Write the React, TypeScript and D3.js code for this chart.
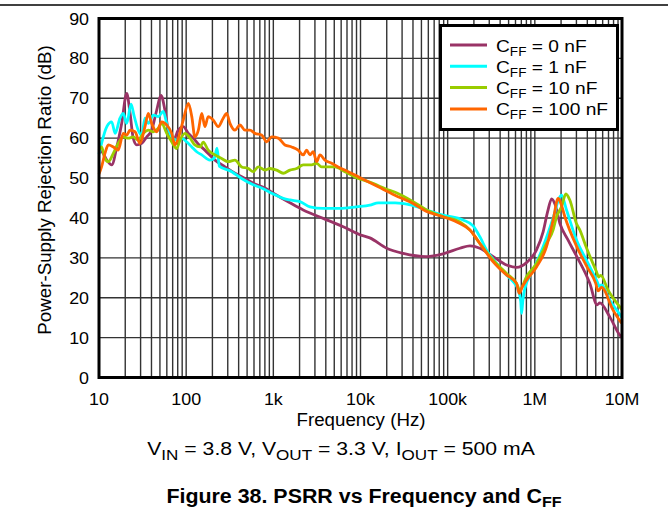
import React from "react";
import * as d3 from "d3";

const freqTicks = [10, 100, 1e3, 1e4, 1e5, 1e6, 1e7];
const freqTickLabels = ["10", "100", "1k", "10k", "100k", "1M", "10M"];
const dbTicks = [0, 10, 20, 30, 40, 50, 60, 70, 80, 90];

const seriesNames = ["0 nF", "1 nF", "10 nF", "100 nF"];
const seriesColors = ["#993366", "#00FFFF", "#99CC00", "#FF6600"];

const cff0Freq = [10, 10.7, 12.3, 14, 16, 18.2, 20.8, 22.7, 24.7, 27.1, 30.9, 35.2, 40.2, 45.9, 51.4, 57.1, 62.3, 71.1, 81.2, 92.6, 106, 121, 138, 164, 214, 279, 363, 472, 615, 801, 1000, 1550, 2200, 3730, 6330, 9844, 12800, 19930, 30900, 57300, 88800, 138000, 180000, 234000, 333000, 473000, 617000, 803000, 1045000, 1245000, 1400000, 1560000, 1700000, 1940000, 2400000, 3000000, 4270000, 5180000, 5560000, 7240000, 9440000, 10000000];
const cff0Db = [56.5, 56.6, 54.5, 53.3, 57.8, 63.7, 71.2, 66.3, 60, 58.3, 58.7, 60.3, 62, 67, 70.7, 67, 62, 59.5, 62, 62.9, 61.2, 60, 58.5, 57, 54.5, 52.8, 51.2, 49.9, 48.5, 47.5, 46.2, 43.8, 42, 39.9, 37.8, 35.8, 35, 32.4, 31.1, 30.3, 31, 32.4, 33, 32.4, 30.3, 28.2, 27.6, 28.8, 32, 36.5, 41.5, 44.8, 43.5, 38.6, 34.5, 30.5, 23.6, 18.2, 18.7, 15.2, 10.6, 10];

const cff1Freq = [10, 10.7, 12.3, 14, 15.3, 17.4, 19, 20.8, 23.3, 25.4, 28.2, 30.9, 33.7, 36.8, 42, 47.9, 54.6, 59.8, 68.2, 77.8, 88.8, 101, 116, 132, 151, 187, 210, 226, 240, 333, 433, 564, 734, 1000, 1300, 1550, 2018, 2630, 3730, 5800, 9000, 12800, 16000, 25000, 38500, 57300, 88800, 150000, 196000, 234000, 279000, 364000, 473000, 564000, 644000, 690000, 704000, 730000, 768000, 957000, 1245000, 1622000, 1936000, 2024000, 2310000, 3000000, 3910000, 5100000, 5560000, 5820000, 7240000, 9870000, 10000000];
const cff1Db = [56, 58.7, 62.9, 64.1, 61.2, 65, 66.2, 63.7, 68.5, 65.4, 62, 60.8, 65, 63.7, 65.8, 65.4, 66.7, 63.7, 60.3, 59.5, 60, 59.1, 57.8, 56.6, 55.8, 54.5, 55, 57.5, 53, 51.6, 49.9, 48.5, 47.5, 46, 44.9, 44.5, 44.1, 42.8, 42.4, 42.4, 42.8, 43.2, 43.8, 43.8, 43.2, 42, 40.7, 39.5, 38, 35.3, 32, 28.6, 25.7, 24, 22, 19, 16.1, 19.5, 22.3, 26.9, 32.8, 40, 45.3, 45.7, 42, 34.5, 29.4, 24.4, 22.8, 23.2, 19.4, 15.2, 15];

const cff10Freq = [10, 10.7, 11.7, 12.8, 14.6, 16.6, 19, 21.7, 24.7, 28.2, 32.2, 36.8, 42, 47.9, 52.4, 59.8, 68.2, 77.8, 84.9, 96.9, 111, 126, 144, 157, 179, 214, 255, 304, 363, 433, 516, 588, 671, 801, 914, 1091, 1299, 1550, 1850, 2202, 2750, 3138, 3580, 4263, 5087, 6622, 8627, 12250, 19050, 29570, 40180, 57280, 88760, 138000, 180000, 234000, 333000, 473000, 617000, 673000, 803000, 1045000, 1362000, 1622000, 1774000, 2024000, 2270000, 2520000, 3000000, 3280000, 3910000, 5100000, 5400000, 5700000, 6930000, 9440000, 10000000];
const cff10Db = [57, 57.8, 54.9, 54.1, 56.2, 58.7, 60.3, 60, 60.3, 59.5, 61.2, 62, 61.6, 62.5, 63.7, 61.2, 59.1, 57.4, 59.5, 61.2, 60, 58.3, 57.8, 59, 57, 55.8, 54.9, 54.1, 54.5, 52.8, 52.4, 51.6, 52.8, 52, 52.4, 52, 51.2, 52, 52.4, 53.3, 53.3, 53.7, 52.8, 52.8, 52.8, 51.6, 50.3, 49.1, 47.4, 45.7, 44.1, 42, 40.3, 39, 37, 33.6, 29.4, 26.1, 23.6, 21.9, 25.3, 28.6, 33.6, 37, 40.3, 42.8, 46, 44.5, 38.6, 37, 32.5, 26.5, 25.2, 25.6, 21.9, 17.7, 17];

const cff100Freq = [10, 10.7, 11.7, 12.8, 14.6, 16.6, 19, 20.8, 22.7, 25.9, 29.5, 33.7, 36.8, 40.2, 45.9, 52.4, 59.8, 68.2, 74.4, 81.2, 92.6, 106, 116, 126, 138, 151, 164, 179, 205, 233, 266, 291, 318, 363, 414, 472, 539, 615, 734, 838, 956, 1138, 1358, 1622, 1930, 2202, 2409, 2630, 2869, 3138, 3423, 3906, 4663, 5550, 7225, 10294, 15960, 24790, 40180, 57280, 88760, 138000, 180000, 234000, 333000, 473000, 617000, 661000, 720000, 803000, 1045000, 1362000, 1622000, 1850000, 2000000, 2210000, 3000000, 3910000, 5000000, 5320000, 5820000, 7900000, 9870000];
const cff100Db = [51, 52.8, 56.2, 58.3, 57.8, 57, 61.2, 60.8, 62, 61.6, 58.7, 62.9, 66.2, 63.7, 61.6, 64.1, 63.3, 61.2, 58.3, 60, 64.5, 68.7, 65.4, 60.3, 62, 66.2, 62.9, 65.4, 64.5, 62.9, 65, 66.2, 63.7, 62, 63.3, 62, 62, 61.2, 60.8, 59.1, 60.3, 60, 58.3, 57.8, 57, 55.8, 57, 55.8, 56.6, 54.1, 55.8, 54.5, 53.7, 52.8, 51.6, 49.9, 47.8, 45.7, 43.6, 41.6, 40.3, 38.6, 37, 33.6, 29, 25.7, 23.6, 21.1, 22.8, 24.4, 27.7, 32.8, 39.5, 44.9, 43.5, 40.3, 33, 28, 23.6, 21.7, 22.6, 16.9, 13.6];

const seriesFreq = [cff0Freq, cff1Freq, cff10Freq, cff100Freq];
const seriesDb = [cff0Db, cff1Db, cff10Db, cff100Db];

const W = 668;
const H = 508;
const FONT = "'Liberation Sans', Arial, Helvetica, sans-serif";

function T({ x, y, size, anchor = "start", sx = 1, weight = "normal", rotate = 0, children }: any) {
  const tr = `translate(${x},${y})${rotate ? ` rotate(${rotate})` : ""} scale(${sx},1)`;
  return (
    <text transform={tr} fontSize={size} fontFamily={FONT} fontWeight={weight} textAnchor={anchor} fill="#000">
      {children}
    </text>
  );
}

export default function App() {
  const x = d3.scaleLog().domain([10, 1e7]).range([99, 622]);
  const y = d3.scaleLinear().domain([0, 90]).range([377.5, 18.5]);

  const minor: number[] = [];
  for (let dec = 10; dec < 1e7; dec *= 10) {
    for (let m = 2; m <= 9; m++) minor.push(dec * m);
  }

  const line = d3
    .line<[number, number]>()
    .x((d) => x(d[0]))
    .y((d) => y(d[1]))
    .curve(d3.curveMonotoneX);

  const series = seriesFreq.map((fs, i) => fs.map((f, j) => [f, seriesDb[i][j]] as [number, number]));

  const gridColor = "#333";
  const legX = 440.5, legY = 25.5, legW = 177, legH = 104;

  return (
    <svg width={W} height={H} style={{ position: "absolute", left: 0, top: 0, background: "#fff" }}>
      <rect x={0} y={0} width={W} height={H} fill="#fff" />
      <line x1={0} x2={W} y1={5} y2={5} stroke="#000" strokeWidth={1.5} />

      {/* grid */}
      {minor.concat(freqTicks).map((f, i) => (
        <line key={"v" + i} x1={x(f)} x2={x(f)} y1={y(90)} y2={y(0)} stroke={gridColor} strokeWidth={1.4} />
      ))}
      {dbTicks.map((v) => (
        <line key={"h" + v} x1={x(10)} x2={x(1e7)} y1={y(v)} y2={y(v)} stroke={gridColor} strokeWidth={1.4} />
      ))}

      {/* curves */}
      {series.map((s, i) => (
        <path key={"s" + i} d={line(s) || ""} fill="none" stroke={seriesColors[i]} strokeWidth={2.8} strokeLinejoin="round" />
      ))}

      {/* border */}
      <rect x={x(10)} y={y(90)} width={x(1e7) - x(10)} height={y(0) - y(90)} fill="none" stroke="#000" strokeWidth={3} />

      {/* legend */}
      <rect x={legX} y={legY} width={legW} height={legH} fill="#fff" stroke="#000" strokeWidth={3} />
      {seriesNames.map((n, i) => {
        const ly = 45 + i * 21.3;
        return (
          <g key={"l" + i}>
            <line x1={450} x2={487} y1={ly} y2={ly} stroke={seriesColors[i]} strokeWidth={3} />
            <text transform={`translate(496,${ly + 6.5}) scale(1.13,1)`} fontSize={17} fontFamily={FONT} fill="#000">
              C<tspan fontSize={12} dy={4}>FF</tspan>
              <tspan dy={-4}>{" = " + n}</tspan>
            </text>
          </g>
        );
      })}

      {/* y tick labels */}
      {dbTicks.map((v) => (
        <T key={"yt" + v} x={89} y={y(v) + 6} size={17} anchor="end" sx={1.05}>
          {String(v)}
        </T>
      ))}
      {/* x tick labels */}
      {freqTicks.map((f, i) => (
        <T key={"xt" + i} x={x(f)} y={405} size={17} anchor="middle" sx={1.05}>
          {freqTickLabels[i]}
        </T>
      ))}

      <T x={361} y={426} size={17.5} anchor="middle" sx={1.07}>
        Frequency (Hz)
      </T>
      <T x={51} y={190} size={17.5} anchor="middle" sx={1.07} rotate={-90}>
        Power-Supply Rejection Ratio (dB)
      </T>

      <text transform={`translate(341,455) scale(1.14,1)`} fontSize={18.6} fontFamily={FONT} textAnchor="middle" fill="#000">
        V<tspan fontSize={15} dy={5}>IN</tspan>
        <tspan dy={-5}> = 3.8 V, V</tspan>
        <tspan fontSize={15} dy={5}>OUT</tspan>
        <tspan dy={-5}> = 3.3 V, I</tspan>
        <tspan fontSize={15} dy={5}>OUT</tspan>
        <tspan dy={-5}> = 500 mA</tspan>
      </text>

      <text transform={`translate(364,502.5) scale(1.07,1)`} fontSize={20} fontFamily={FONT} fontWeight="bold" textAnchor="middle" fill="#000">
        Figure 38. PSRR vs Frequency and C<tspan fontSize={15} dy={4}>FF</tspan>
      </text>
    </svg>
  );
}
